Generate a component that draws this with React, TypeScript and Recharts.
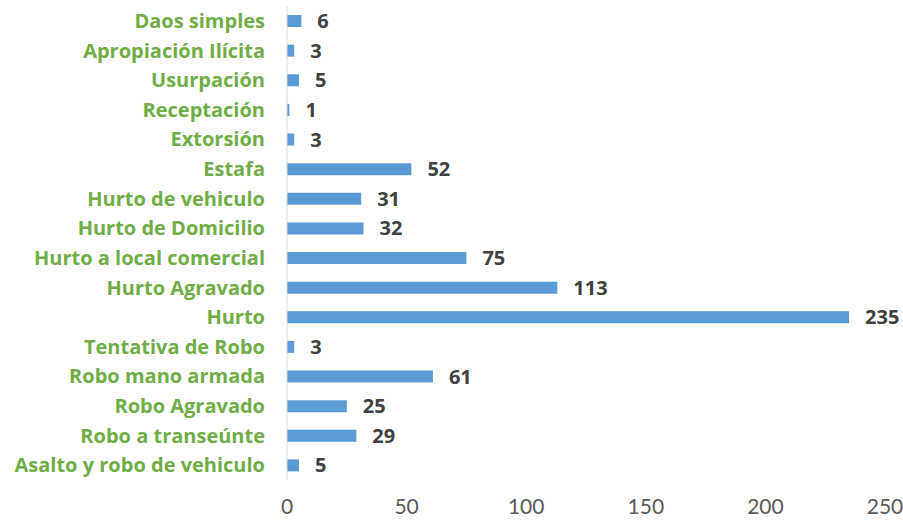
import { Bar, BarChart, LabelList, XAxis, YAxis } from "recharts";

const CATEGORIES = [
  "Daos simples",
  "Apropiación Ilícita",
  "Usurpación",
  "Receptación",
  "Extorsión",
  "Estafa",
  "Hurto de vehiculo",
  "Hurto de Domicilio",
  "Hurto a local comercial",
  "Hurto Agravado",
  "Hurto",
  "Tentativa de Robo",
  "Robo mano armada",
  "Robo Agravado",
  "Robo a transeúnte",
  "Asalto y robo de vehiculo",
];

const VALUES = [6, 3, 5, 1, 3, 52, 31, 32, 75, 113, 235, 3, 61, 25, 29, 5];

const X_TICKS = [0, 50, 100, 150, 200, 250];

const LABEL_FONT = "'Open Sans', sans-serif";
const TICK_FONT = "Lato, 'Open Sans', sans-serif";

export default function App() {
  const data = CATEGORIES.map((name, i) => ({ name, value: VALUES[i] }));

  return (
    <div style={{ position: "absolute", left: 0, top: 0, background: "#fff" }}>
      <BarChart
        width={903}
        height={521}
        data={data}
        layout="vertical"
        margin={{ top: 6, right: 18, bottom: 0, left: 0 }}
        barCategoryGap={9}
      >
        <XAxis
          type="number"
          domain={[0, 250]}
          ticks={X_TICKS}
          axisLine={false}
          tickLine={false}
          height={41}
          tickMargin={13}
          tick={{ fontSize: 21, fill: "#595959", fontFamily: TICK_FONT }}
        />
        <YAxis
          type="category"
          dataKey="name"
          width={287}
          axisLine={{ stroke: "#d9d9d9" }}
          tickLine={false}
          tickMargin={16}
          interval={0}
          tick={{ fontSize: 20, fill: "#70ad47", fontWeight: 700, fontFamily: LABEL_FONT }}
        />
        <Bar dataKey="value" fill="#5b9bd5" isAnimationActive={false}>
          <LabelList
            dataKey="value"
            position="right"
            offset={16}
            style={{ fontSize: 20, fill: "#404040", fontWeight: 700, fontFamily: LABEL_FONT }}
          />
        </Bar>
      </BarChart>
    </div>
  );
}
